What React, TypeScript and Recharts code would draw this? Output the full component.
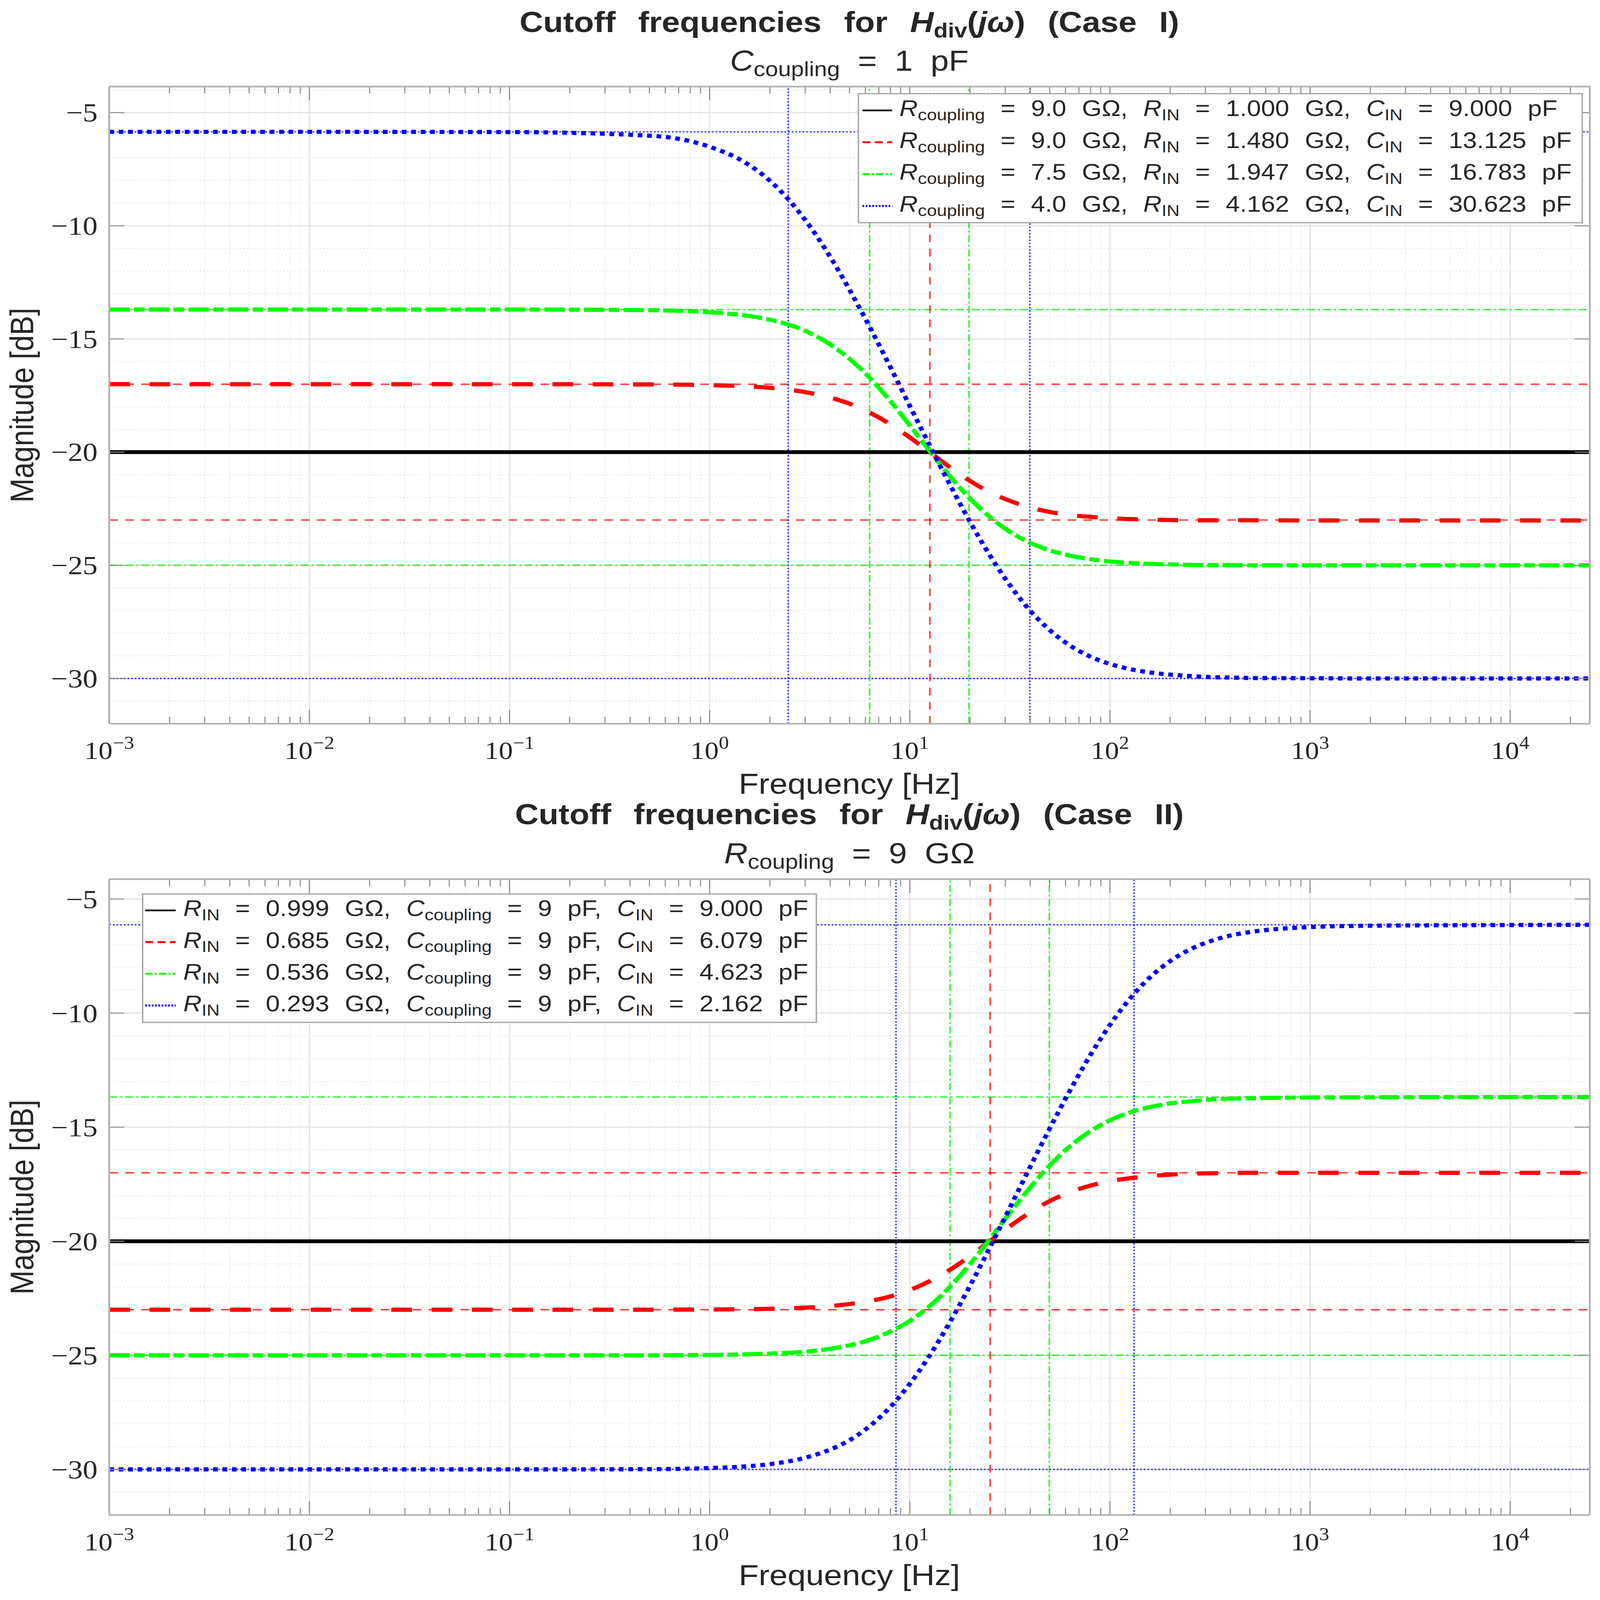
import React from 'react';
import { LineChart, Line, XAxis, YAxis, ReferenceLine } from 'recharts';

// ---------- data ----------
const FREQ = [0.001, 0.01, 0.1, 0.5, 1, 1.5, 2, 3, 4, 5, 6, 8, 10, 12.5, 16, 20, 25, 32, 40, 50, 63, 80, 100, 125, 160, 200, 250, 315, 400, 500, 1000, 2000, 10000, 25000];

const TOP_BLACK = [-20, -20, -20, -20, -20, -20, -20, -20, -20, -20, -20, -20, -20, -20, -20, -20, -20, -20, -20, -20, -20, -20, -20, -20, -20, -20, -20, -20, -20, -20, -20, -20, -20, -20];
const TOP_RED = [-17.0, -17.0, -17.0, -17.01, -17.04, -17.09, -17.16, -17.35, -17.59, -17.86, -18.16, -18.77, -19.35, -19.99, -20.69, -21.27, -21.76, -22.17, -22.45, -22.64, -22.78, -22.86, -22.92, -22.96, -22.98, -23.0, -23.01, -23.01, -23.01, -23.01, -23.02, -23.02, -23.02, -23.02];
const TOP_GREEN = [-13.7, -13.7, -13.7, -13.73, -13.82, -13.96, -14.15, -14.64, -15.24, -15.88, -16.52, -17.75, -18.82, -19.92, -21.1, -22.05, -22.85, -23.55, -24.01, -24.34, -24.57, -24.73, -24.83, -24.89, -24.94, -24.96, -24.98, -24.99, -24.99, -25.0, -25.0, -25.0, -25.0, -25.0];
const TOP_BLUE = [-5.85, -5.85, -5.86, -6.02, -6.51, -7.2, -8.01, -9.74, -11.37, -12.83, -14.11, -16.25, -17.96, -19.66, -21.5, -23.08, -24.53, -25.94, -27.01, -27.86, -28.54, -29.04, -29.36, -29.58, -29.74, -29.83, -29.89, -29.94, -29.96, -29.98, -29.99, -30.0, -30.0, -30.0];

const BOT_BLACK = [-20, -20, -20, -20, -20, -20, -20, -20, -20, -20, -20, -20, -20, -20, -20, -20, -20, -20, -20, -20, -20, -20, -20, -20, -20, -20, -20, -20, -20, -20, -20, -20, -20, -20];
const BOT_RED = [-23.0, -23.0, -23.0, -23.0, -22.99, -22.98, -22.96, -22.91, -22.84, -22.75, -22.65, -22.42, -22.14, -21.76, -21.23, -20.65, -20.01, -19.31, -18.73, -18.24, -17.85, -17.56, -17.36, -17.24, -17.14, -17.08, -17.04, -17.02, -17.01, -17.0, -17.0, -17.0, -17.0, -17.0];
const BOT_GREEN = [-25.0, -25.0, -25.0, -25.0, -24.98, -24.96, -24.92, -24.84, -24.71, -24.56, -24.38, -23.96, -23.49, -22.86, -21.96, -21.0, -19.93, -18.7, -17.64, -16.68, -15.84, -15.17, -14.7, -14.36, -14.11, -13.96, -13.87, -13.79, -13.75, -13.73, -13.7, -13.69, -13.68, -13.68];
const BOT_BLUE = [-30.0, -30.0, -30.0, -29.99, -29.94, -29.87, -29.77, -29.49, -29.13, -28.72, -28.25, -27.26, -26.25, -25.04, -23.49, -21.95, -20.31, -18.44, -16.73, -15.06, -13.41, -11.83, -10.52, -9.4, -8.4, -7.72, -7.22, -6.86, -6.6, -6.45, -6.23, -6.17, -6.14, -6.13];

// cutoff markers (thin reference lines)
const TOP_H_RED = [-17, -23];
const TOP_H_GREEN = [-13.7, -25];
const TOP_H_BLUE = [-5.85, -30];
const TOP_V_RED = [12.6];
const TOP_V_GREEN = [6.3, 19.75];
const TOP_V_BLUE = [2.47, 39.8];

const BOT_H_RED = [-17, -23];
const BOT_H_GREEN = [-13.68, -25];
const BOT_H_BLUE = [-6.13, -30];
const BOT_V_RED = [25.2];
const BOT_V_GREEN = [15.9, 49.8];
const BOT_V_BLUE = [8.53, 132];

// legend texts
const TOP_RCOUP = ['9.0', '9.0', '7.5', '4.0'];
const TOP_RIN = ['1.000', '1.480', '1.947', '4.162'];
const TOP_CIN = ['9.000', '13.125', '16.783', '30.623'];
const BOT_RIN = ['0.999', '0.685', '0.536', '0.293'];
const BOT_CCOUP = ['9', '9', '9', '9'];
const BOT_CIN = ['9.000', '6.079', '4.623', '2.162'];

// axes
const X_MIN = 0.001;
const X_MAX = 25000;
const Y_MIN = -32;
const TOP_Y_MAX = -3.85;
const BOT_Y_MAX = -4.13;
const DECADES = [0.001, 0.01, 0.1, 1, 10, 100, 1000, 10000];
const MINOR_MULTS = [2, 3, 4, 5, 6, 7, 8, 9];
const MINOR_X = DECADES.flatMap((d) => MINOR_MULTS.map((m) => Number((d * m).toPrecision(3)))).filter((v) => v < X_MAX);
const MAJOR_Y = [-30, -25, -20, -15, -10, -5];
const MINOR_Y = [-31, -29, -28, -27, -26, -24, -23, -22, -21, -19, -18, -17, -16, -14, -13, -12, -11, -9, -8, -7, -6, -4];

// ---------- styling ----------
const SANS = "'Liberation Sans', Arial, Helvetica, sans-serif";
const SERIF = "'Liberation Serif', 'Times New Roman', serif";
const TXT = '#262626';

// design is laid out on the reference's 4408 x 4972 canvas; the browser viewport is 4096 x 4096
const DESIGN_W = 4408;
const DESIGN_H = 4972;
const VIEW_W = 4096;
const VIEW_H = 4096;

const SERIES = [
  { key: 'k', color: '#000000', dash: undefined as string | undefined, thin: '' },
  { key: 'r', color: '#ff0000', dash: '57 54', thin: '24 20' },
  { key: 'g', color: '#00ff00', dash: '56 12 29 12', thin: '22 8 6 8' },
  { key: 'b', color: '#0000ff', dash: '13 13', thin: '5 5' },
];
const LEGEND_DASH = [undefined, '22 12', '20 6 6 6', '5 4'];

const buildRows = (k: number[], r: number[], g: number[], b: number[]) =>
  FREQ.map((f, i) => ({ f, k: k[i], r: r[i], g: g[i], b: b[i] }));

const TOP_DATA = buildRows(TOP_BLACK, TOP_RED, TOP_GREEN, TOP_BLUE);
const BOT_DATA = buildRows(BOT_BLACK, BOT_RED, BOT_GREEN, BOT_BLUE);

const TICK_MAJ = 0.61;
const TICK_MIN = 0.31;
const YTICK_F = 1.19;

const XTick = (props: any) => {
  const { x, y, payload } = props;
  const e = Math.round(Math.log10(payload.value));
  const es = e < 0 ? '\u2212' + String(-e) : String(e);
  return (
    <text x={x} y={y + 110} textAnchor="middle" fontFamily={SERIF} fontSize={78} fill={TXT}>
      <tspan>10</tspan>
      <tspan dy={-32} fontSize={56}>{es}</tspan>
    </text>
  );
};

const YTick = (props: any) => {
  const { x, y, payload } = props;
  const v = payload.value;
  const s = v < 0 ? '\u2212' + String(-v) : String(v);
  return (
    <text x={x - 32} y={y + 28} textAnchor="end" fontFamily={SERIF} fontSize={82} fill={TXT}>
      {s}
    </text>
  );
};

type PanelProps = {
  data: any[];
  yMax: number;
  height: number;
  mTop: number;
  mBottom: number;
  hRed: number[];
  hGreen: number[];
  hBlue: number[];
  vRed: number[];
  vGreen: number[];
  vBlue: number[];
};

function Panel(p: PanelProps) {
  const thin = (key: string, color: string, dash: string, horiz: boolean, v: number) =>
    horiz ? (
      <ReferenceLine key={key} y={v} stroke={color} strokeOpacity={0.75} strokeWidth={4.5} strokeDasharray={dash} />
    ) : (
      <ReferenceLine key={key} x={v} stroke={color} strokeOpacity={0.75} strokeWidth={4.5} strokeDasharray={dash} />
    );
  return (
    <LineChart width={DESIGN_W} height={p.height} data={p.data} margin={{ top: p.mTop, right: 28, bottom: p.mBottom, left: 101 }}>
      <XAxis
        dataKey="f"
        type="number"
        scale="log"
        domain={[X_MIN, X_MAX]}
        ticks={DECADES}
        interval={0}
        allowDataOverflow
        height={200}
        axisLine={false}
        tickLine={false}
        tickSize={0}
        tickMargin={0}
        tick={XTick}
      />
      <YAxis
        type="number"
        domain={[Y_MIN, p.yMax]}
        ticks={MAJOR_Y}
        interval={0}
        allowDataOverflow
        width={200}
        axisLine={false}
        tickLine={false}
        tickSize={0}
        tickMargin={0}
        tick={YTick}
      />
      {MINOR_Y.filter((v) => v < p.yMax).map((v) => (
        <ReferenceLine key={'mgy' + v} y={v} stroke="#e2e2e2" strokeWidth={3} strokeDasharray="3 7" />
      ))}
      {MINOR_X.map((v) => (
        <ReferenceLine key={'mgx' + v} x={v} stroke="#e8e8e8" strokeWidth={3} strokeDasharray="3 7" />
      ))}
      {MAJOR_Y.map((v) => (
        <ReferenceLine key={'gy' + v} y={v} stroke="#e6e6e6" strokeWidth={4} />
      ))}
      {DECADES.slice(1).map((v) => (
        <ReferenceLine key={'gx' + v} x={v} stroke="#e6e6e6" strokeWidth={4} />
      ))}
      {p.hRed.map((v, i) => thin('hr' + i, '#ff0000', SERIES[1].thin, true, v))}
      {p.hGreen.map((v, i) => thin('hg' + i, '#00ee00', SERIES[2].thin, true, v))}
      {p.hBlue.map((v, i) => thin('hb' + i, '#0000ff', SERIES[3].thin, true, v))}
      {p.vRed.map((v, i) => thin('vr' + i, '#ff0000', SERIES[1].thin, false, v))}
      {p.vGreen.map((v, i) => thin('vg' + i, '#00ee00', SERIES[2].thin, false, v))}
      {p.vBlue.map((v, i) => thin('vb' + i, '#0000ff', SERIES[3].thin, false, v))}
      {SERIES.map((s) => (
        <Line
          key={s.key}
          dataKey={s.key}
          type="monotone"
          stroke={s.color}
          strokeWidth={s.key === 'k' ? 12 : 13}
          strokeDasharray={s.dash}
          strokeLinecap="butt"
          dot={false}
          activeDot={false}
          isAnimationActive={false}
        />
      ))}
      {DECADES.map((v) => (
        <ReferenceLine key={'tb' + v} segment={[{ x: v, y: Y_MIN }, { x: v, y: Y_MIN + TICK_MAJ }]} stroke="#8f8f8f" strokeWidth={3} />
      ))}
      {DECADES.map((v) => (
        <ReferenceLine key={'tt' + v} segment={[{ x: v, y: p.yMax }, { x: v, y: p.yMax - TICK_MAJ }]} stroke="#8f8f8f" strokeWidth={3} />
      ))}
      {MINOR_X.map((v) => (
        <ReferenceLine key={'mtb' + v} segment={[{ x: v, y: Y_MIN }, { x: v, y: Y_MIN + TICK_MIN }]} stroke="#8f8f8f" strokeWidth={3} />
      ))}
      {MINOR_X.map((v) => (
        <ReferenceLine key={'mtt' + v} segment={[{ x: v, y: p.yMax }, { x: v, y: p.yMax - TICK_MIN }]} stroke="#8f8f8f" strokeWidth={3} />
      ))}
      {MAJOR_Y.map((v) => (
        <ReferenceLine key={'tl' + v} segment={[{ x: X_MIN, y: v }, { x: X_MIN * YTICK_F, y: v }]} stroke="#8f8f8f" strokeWidth={3} />
      ))}
      {MAJOR_Y.map((v) => (
        <ReferenceLine key={'tr' + v} segment={[{ x: X_MAX / YTICK_F, y: v }, { x: X_MAX, y: v }]} stroke="#8f8f8f" strokeWidth={3} />
      ))}
      <ReferenceLine y={Y_MIN} stroke="#b0b0b0" strokeWidth={5} />
      <ReferenceLine y={p.yMax} stroke="#b0b0b0" strokeWidth={5} />
      <ReferenceLine x={X_MIN} stroke="#b0b0b0" strokeWidth={5} />
      <ReferenceLine x={X_MAX} stroke="#b0b0b0" strokeWidth={5} />
    </LineChart>
  );
}

type Part = { t: string; i?: boolean; s?: boolean };

function Rich(props: { x: number; y: number; parts: Part[]; size: number; anchor?: string; bold?: boolean; ws?: number; sub?: number }) {
  const { x, y, parts, size, anchor = 'start', bold = false, ws = 0, sub = 0.19 } = props;
  const shift = Math.round(size * sub);
  let cur = 0;
  return (
    <text
      x={x}
      y={y}
      textAnchor={anchor as any}
      fontFamily={SANS}
      fontSize={size}
      fontWeight={bold ? 'bold' : 'normal'}
      fill={TXT}
      wordSpacing={ws}
      style={{ whiteSpace: 'pre' }}
    >
      {parts.map((pt, i) => {
        const target = pt.s ? shift : 0;
        const dy = target - cur;
        cur = target;
        return (
          <tspan key={i} dy={dy !== 0 ? dy : undefined} fontStyle={pt.i ? 'italic' : 'normal'} fontSize={pt.s ? size * 0.71 : size}>
            {pt.t}
          </tspan>
        );
      })}
    </text>
  );
}

function LegendBox(props: { x: number; y: number; w: number; h: number; rowY0: number; rowStep: number; lineX0: number; lineX1: number; textX: number; rows: Part[][] }) {
  const { x, y, w, h, rowY0, rowStep, lineX0, lineX1, textX, rows } = props;
  return (
    <g>
      <rect x={x} y={y} width={w} height={h} fill="#ffffff" stroke="#a8a8a8" strokeWidth={4} />
      {rows.map((parts, i) => {
        const ry = rowY0 + i * rowStep;
        return (
          <g key={i}>
            <line x1={lineX0} x2={lineX1} y1={ry} y2={ry} stroke={SERIES[i].color} strokeWidth={i === 0 ? 5 : 6} strokeDasharray={LEGEND_DASH[i]} />
            <Rich x={textX} y={ry + 18} parts={parts} size={70} ws={23.5} />
          </g>
        );
      })}
    </g>
  );
}

const topRows: Part[][] = TOP_RCOUP.map((rc, i) => [
  { t: 'R', i: true },
  { t: 'coupling', s: true },
  { t: ' = ' + rc + ' G\u03a9, ' },
  { t: 'R', i: true },
  { t: 'IN', s: true },
  { t: ' = ' + TOP_RIN[i] + ' G\u03a9, ' },
  { t: 'C', i: true },
  { t: 'IN', s: true },
  { t: ' = ' + TOP_CIN[i] + ' pF' },
]);

const botRows: Part[][] = BOT_RIN.map((rin, i) => [
  { t: 'R', i: true },
  { t: 'IN', s: true },
  { t: ' = ' + rin + ' G\u03a9, ' },
  { t: 'C', i: true },
  { t: 'coupling', s: true },
  { t: ' = ' + BOT_CCOUP[i] + ' pF, ' },
  { t: 'C', i: true },
  { t: 'IN', s: true },
  { t: ' = ' + BOT_CIN[i] + ' pF' },
]);

const titleParts = (cas: string): Part[] => [
  { t: 'Cutoff frequencies for ' },
  { t: 'H', i: true },
  { t: 'div', s: true },
  { t: '(' },
  { t: 'j\u03c9', i: true },
  { t: ') (Case ' + cas + ')' },
];

export default function App() {
  const cx = 2340;
  const sx = VIEW_W / DESIGN_W;
  const sy = VIEW_H / DESIGN_H;
  return (
    <div style={{ position: 'relative', width: VIEW_W, height: VIEW_H, margin: -8, background: '#ffffff', overflow: 'hidden' }}>
      <div style={{ position: 'absolute', left: 0, top: 0, width: DESIGN_W, height: DESIGN_H, transform: `scale(${sx}, ${sy})`, transformOrigin: '0 0' }}>
        <div style={{ position: 'absolute', left: 0, top: 0 }}>
          <Panel data={TOP_DATA} yMax={TOP_Y_MAX} height={2500} mTop={269} mBottom={51} hRed={TOP_H_RED} hGreen={TOP_H_GREEN} hBlue={TOP_H_BLUE} vRed={TOP_V_RED} vGreen={TOP_V_GREEN} vBlue={TOP_V_BLUE} />
        </div>
        <div style={{ position: 'absolute', left: 0, top: 2500 }}>
          <Panel data={BOT_DATA} yMax={BOT_Y_MAX} height={2472} mTop={232} mBottom={64} hRed={BOT_H_RED} hGreen={BOT_H_GREEN} hBlue={BOT_H_BLUE} vRed={BOT_V_RED} vGreen={BOT_V_GREEN} vBlue={BOT_V_BLUE} />
        </div>
        <svg width={DESIGN_W} height={DESIGN_H} style={{ position: 'absolute', left: 0, top: 0, pointerEvents: 'none' }}>
          <Rich x={cx} y={99} parts={titleParts('I')} size={90} anchor="middle" bold ws={37} />
          <Rich x={cx} y={220} parts={[{ t: 'C', i: true }, { t: 'coupling', s: true }, { t: ' = 1 pF' }]} size={90} anchor="middle" ws={24} />
          <Rich x={cx} y={2561} parts={titleParts('II')} size={90} anchor="middle" bold ws={37} />
          <Rich x={cx} y={2683} parts={[{ t: 'R', i: true }, { t: 'coupling', s: true }, { t: ' = 9 G\u03a9' }]} size={90} anchor="middle" ws={24} />
          <text x={cx} y={2467} textAnchor="middle" fontFamily={SANS} fontSize={90} fill={TXT}>Frequency [Hz]</text>
          <text x={cx} y={4926} textAnchor="middle" fontFamily={SANS} fontSize={90} fill={TXT}>Frequency [Hz]</text>
          <text x={91} y={1259} transform="rotate(-90 91 1259)" textAnchor="middle" fontFamily={SANS} fontSize={90} fill={TXT}>Magnitude [dB]</text>
          <text x={91} y={3720} transform="rotate(-90 91 3720)" textAnchor="middle" fontFamily={SANS} fontSize={90} fill={TXT}>Magnitude [dB]</text>
          <LegendBox x={2365} y={291} w={1994} h={401} rowY0={343} rowStep={99} lineX0={2376} lineX1={2458} textX={2478} rows={topRows} />
          <LegendBox x={393} y={2778} w={1856} h={399} rowY0={2829} rowStep={98.5} lineX0={400} lineX1={484} textX={505} rows={botRows} />
        </svg>
      </div>
    </div>
  );
}
